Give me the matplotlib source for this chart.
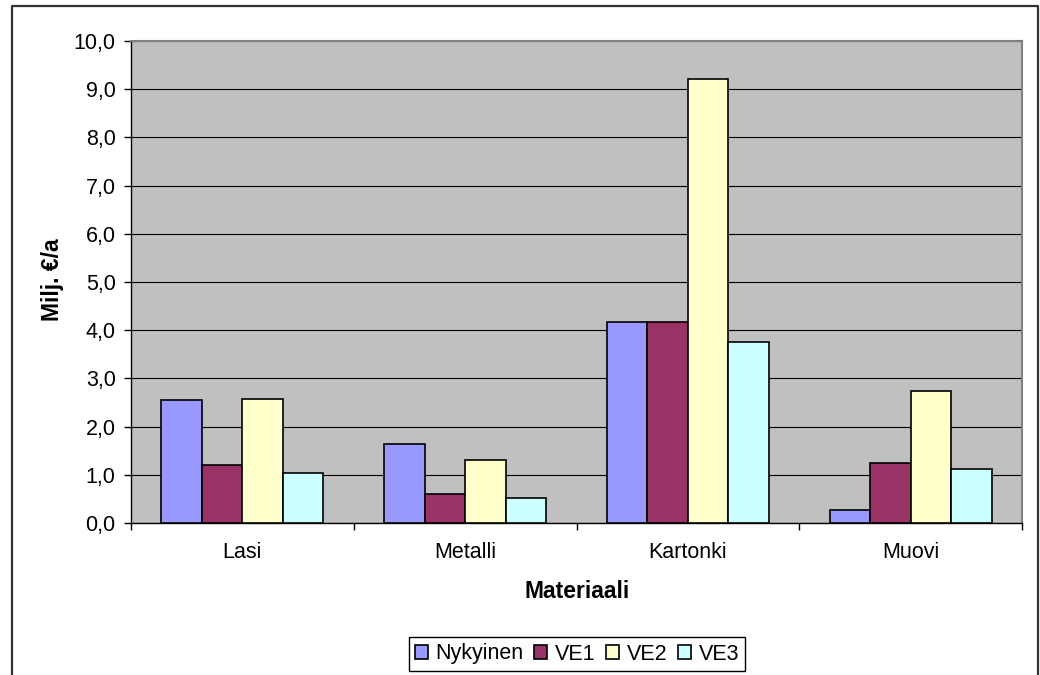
import matplotlib
matplotlib.use("Agg")
import matplotlib.pyplot as plt
from matplotlib.lines import Line2D
from matplotlib.ticker import FixedLocator, FuncFormatter
import numpy as np

plt.rcParams['font.family'] = ['Liberation Sans', 'DejaVu Sans']

categories = ["Lasi", "Metalli", "Kartonki", "Muovi"]
series_names = ["Nykyinen", "VE1", "VE2", "VE3"]
nykyinen = [2.55, 1.63, 4.17, 0.26]
ve1 = [1.21, 0.61, 4.17, 1.24]
ve2 = [2.58, 1.31, 9.21, 2.73]
ve3 = [1.03, 0.51, 3.75, 1.11]
colors = ["#9999FF", "#993366", "#FFFFCC", "#CCFFFF"]
y_ticks = [0, 1, 2, 3, 4, 5, 6, 7, 8, 9, 10]

W, H = 1040, 675
fig = plt.figure(figsize=(W / 100, H / 100), dpi=100)

# chart-area border
fig.add_artist(Line2D([12 / W, 12 / W, 1038 / W, 1038 / W],
                      [0, 1 - 6 / H, 1 - 6 / H, 0],
                      transform=fig.transFigure, color="#333333", lw=1.6))

left, top, right, bottom = 131, 41, 1022, 523
ax = fig.add_axes([left / W, 1 - bottom / H, (right - left) / W, (bottom - top) / H])
ax.set_facecolor("#C0C0C0")

x = np.arange(len(categories))
w = 1 / 5.5
data = [nykyinen, ve1, ve2, ve3]
handles = []
for i, (vals, c, name) in enumerate(zip(data, colors, series_names)):
    b = ax.bar(x + (i - 1.5) * w, vals, width=w, color=c, edgecolor="black",
               linewidth=1.2, label=name, zorder=3)
    handles.append(b)

ax.set_xlim(-0.5, 3.5)
ax.set_ylim(0, 10)
ax.yaxis.set_major_locator(FixedLocator(y_ticks))
ax.yaxis.set_major_formatter(FuncFormatter(lambda v, p: f"{v:.1f}".replace(".", ",")))
ax.grid(axis="y", color="black", lw=0.8, zorder=1)
ax.set_axisbelow(True)

ax.set_xticks(x)
ax.set_xticklabels(categories)
ax.set_xticks(np.arange(-0.5, 4.0, 1.0), minor=True)
ax.tick_params(axis="x", which="major", length=0, pad=14, labelsize=15.5)
ax.tick_params(axis="x", which="minor", length=5, width=1, color="black", direction="out")
ax.tick_params(axis="y", length=5, width=1, color="black", direction="out", pad=6, labelsize=15.5)

for s in ["top", "right"]:
    ax.spines[s].set_color("#808080")
    ax.spines[s].set_linewidth(1.5)
for s in ["left", "bottom"]:
    ax.spines[s].set_color("black")
    ax.spines[s].set_linewidth(1.0)

fig.text(52 / W, 1 - 280 / H, "Milj. €/a", rotation=90, ha="center", va="center",
         fontsize=16.5, fontweight="bold")
fig.text(577 / W, 1 - 592 / H, "Materiaali", ha="center", va="center",
         fontsize=16.5, fontweight="bold")

leg = fig.legend(handles=handles, labels=series_names, loc="center",
                 bbox_to_anchor=(577 / W, 1 - 654 / H), ncol=4, fontsize=15.5,
                 frameon=True, fancybox=False, edgecolor="black", framealpha=1,
                 handlelength=0.6, handleheight=0.6, handletextpad=0.35,
                 columnspacing=0.5, borderpad=0.3, borderaxespad=0)
leg.get_frame().set_linewidth(1.0)

fig.savefig("out.png", dpi=100)
